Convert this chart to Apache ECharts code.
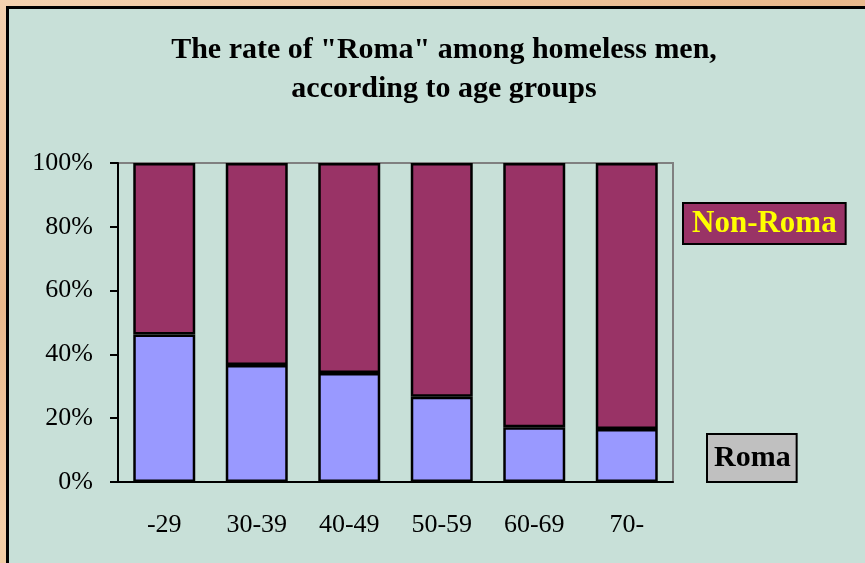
<!DOCTYPE html>
<html>
<head>
<meta charset="utf-8">
<script src="https://cdn.jsdelivr.net/npm/echarts@6/dist/echarts.min.js"></script>
<style>
  html, body { margin: 0; padding: 0; width: 865px; height: 563px; overflow: hidden; }
  body {
    background: linear-gradient(160deg, #f4d2b0 0%, #e9b98c 35%, #f3cfa8 60%, #e6b386 100%);
  }
  #chart {
    position: absolute; left: 6px; top: 6px;
    width: 870px; height: 570px;
    background: #c8e0d8;
    border: 3px solid #000;
  }
</style>
</head>
<body>
<div id="chart"></div>
<script>
  // age groups
  var categories = ['-29', '30-39', '40-49', '50-59', '60-69', '70-'];
  // share in %
  var roma = [46.2, 36.7, 34.2, 26.7, 17.2, 16.6];
  var nonRoma = [53.8, 63.3, 65.8, 73.3, 82.8, 83.4];
  var yTicks = [0, 20, 40, 60, 80, 100];

  var serif = 'Liberation Serif, Times New Roman, serif';

  var chart = echarts.init(document.getElementById('chart'));
  var option = {
    animation: false,
    title: {
      text: 'The rate of "Roma" among homeless men,\naccording to age groups',
      left: 'center',
      top: 17,
      textStyle: { fontFamily: serif, fontWeight: 'bold', fontSize: 30, lineHeight: 39, color: '#000' }
    },
    legend: [
      {
        data: ['Non-Roma'],
        left: 664, top: 188,
        itemWidth: 0, itemHeight: 0,
        selectedMode: false,
        textStyle: {
          fontFamily: serif, fontWeight: 'bold', fontSize: 31, color: '#ffff00',
          backgroundColor: '#993366', borderColor: '#000', borderWidth: 2,
          padding: [5, 8, 3, 8]
        }
      },
      {
        data: ['Roma'],
        left: 688, top: 419,
        itemWidth: 0, itemHeight: 0,
        selectedMode: false,
        textStyle: {
          fontFamily: serif, fontWeight: 'bold', fontSize: 30, color: '#000',
          backgroundColor: '#c0c0c0', borderColor: '#000', borderWidth: 2,
          padding: [9, 5, 7, 6]
        }
      }
    ],
    grid: {
      left: 109, top: 154, width: 555, height: 319,
      show: true, borderColor: '#808080', borderWidth: 2, backgroundColor: 'transparent'
    },
    xAxis: {
      type: 'category',
      data: categories,
      axisLine: { lineStyle: { color: '#000', width: 2 } },
      axisTick: { length: 8, lineStyle: { color: '#000', width: 2 } },
      axisLabel: { fontFamily: serif, fontSize: 26, color: '#000', margin: 30 }
    },
    yAxis: {
      type: 'value',
      min: 0, max: 100, interval: 20,
      axisLine: { show: true, lineStyle: { color: '#000', width: 2 } },
      axisTick: { show: true, length: 8, lineStyle: { color: '#000', width: 2 } },
      splitLine: { show: false },
      axisLabel: {
        fontFamily: serif, fontSize: 26, color: '#000', margin: 25,
        formatter: function (v) { return yTicks.indexOf(v) >= 0 ? v + '%' : ''; }
      }
    },
    series: [
      {
        name: 'Roma', type: 'bar', stack: 'all', data: roma,
        barCategoryGap: '33%',
        itemStyle: { color: '#9999ff', borderColor: '#000', borderWidth: 2.5 }
      },
      {
        name: 'Non-Roma', type: 'bar', stack: 'all', data: nonRoma,
        itemStyle: { color: '#993366', borderColor: '#000', borderWidth: 2.5 }
      }
    ]
  };
  chart.setOption(option);
</script>
</body>
</html>
